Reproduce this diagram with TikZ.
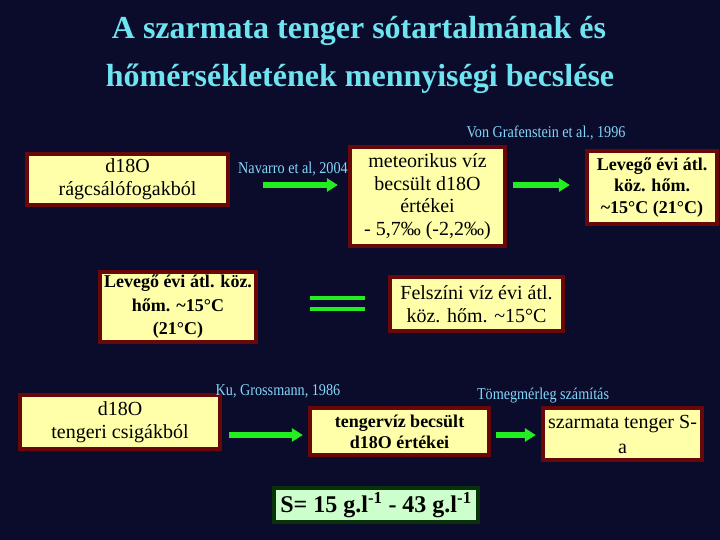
\documentclass[tikz,border=0pt]{standalone}
\usepackage{fontspec}
\setmainfont{Liberation Serif}
\newfontfamily\labfont{Liberation Serif}[FakeStretch=0.86]
\usetikzlibrary{arrows.meta}
\definecolor{bg}{RGB}{11,12,44}
\definecolor{boxfill}{RGB}{255,255,170}
\definecolor{boxred}{RGB}{105,8,8}
\definecolor{titlecol}{RGB}{110,228,240}
\definecolor{labcol}{RGB}{130,215,250}
\definecolor{arrgreen}{RGB}{34,238,34}
\definecolor{sfill}{RGB}{204,255,204}
\definecolor{sborder}{RGB}{10,50,10}
\newcommand\setfs[2]{\fontsize{#1}{#2}\selectfont}
\begin{document}
\begin{tikzpicture}[x=1pt,y=-1pt,
  box/.style={draw=boxred,line width=3.8pt,fill=boxfill,inner sep=0pt,align=center,text=black},
  nbox/.style={box,font=\setfs{20}{23}},
  bbox/.style={box,font=\bfseries\setfs{18}{22}},
  lab/.style={text=labcol,inner sep=0pt,font=\labfont\setfs{16.5}{18}},
  ttl/.style={text=titlecol,inner sep=0pt,anchor=base,font=\bfseries\setfs{32}{36}},
  arr/.style={draw=arrgreen,line width=5.5pt,-{Triangle[length=11pt,width=13pt]}},
  eqline/.style={draw=arrgreen,line width=3.5pt}]
\fill[bg] (0,0) rectangle (720,540);
\useasboundingbox (0,0) rectangle (720,540);

% title
\node[ttl] (t1) at (359,39) {A szarmata tenger sótartalmának és};
\node[ttl] (t2) at (360,87) {hőmérsékletének mennyiségi becslése};

% labels under boxes
\node[lab] (lnav) at (293,169) {Navarro et al, 2004};

% boxes
\node[nbox,minimum width=201.5pt,minimum height=51.5pt] (b1) at (127.5,179.5) {d18O\\rágcsálófogakból};
\node[nbox,minimum width=155.5pt,minimum height=99.5pt,font=\setfs{20}{22.5}] (met) at (427.5,196.5) {meteorikus víz\\becsült d18O\\értékei\\- 5,7‰ (-2,2‰)};
\node[bbox,minimum width=130.5pt,minimum height=73.5pt,font=\bfseries\setfs{18}{21.5}] (levr) at (652,187.5) {Levegő évi átl.\\köz. hőm.\\\textasciitilde15°C (21°C)};
\node[bbox,minimum width=156.5pt,minimum height=70.5pt,font=\bfseries\setfs{18}{23.5}] (levl) at (178,307) {Levegő évi átl. köz.\\hőm. \textasciitilde15°C\\(21°C)};
\node[nbox,minimum width=173.5pt,minimum height=54.5pt] (fel) at (476.5,304) {Felszíni víz évi átl.\\köz. hőm. \textasciitilde15°C};
\node[nbox,minimum width=200.5pt,minimum height=54.5pt] (teng) at (120,422) {d18O\\tengeri csigákból};
\node[bbox,minimum width=179.5pt,minimum height=47.5pt,font=\bfseries\setfs{18}{21}] (tv) at (399.5,431.5) {tengervíz becsült\\d18O értékei};
\node[nbox,minimum width=159.5pt,minimum height=52.5pt,font=\setfs{20}{25}] (sz) at (622.5,434) {szarmata tenger S-\\a};
\node[draw=sborder,line width=3.8pt,fill=sfill,inner sep=0pt,minimum width=204.5pt,minimum height=34.5pt,text=black,font=\bfseries\setfs{24}{28}] (s) at (376,505) {S= 15 g.l\textsuperscript{-1} - 43 g.l\textsuperscript{-1}};

% labels over
\node[lab] (lvon) at (546,133) {Von Grafenstein et al., 1996};
\node[lab] (lku) at (278,391) {Ku, Grossmann, 1986};
\node[lab] (ltom) at (543,396) {Tömegmérleg számítás};

% arrows
\coordinate (a1) at ([shift={(33,5.5)}]b1.east);
\draw[arr,shorten >=10pt] (a1) -- (a1 -| met.west);
\coordinate (a2) at ([shift={(6,-11.5)}]met.east);
\draw[arr,shorten >=15pt] (a2) -- (a2 -| levr.west);
\coordinate (a3) at ([shift={(7,13)}]teng.east);
\draw[arr,shorten >=5pt] (a3) -- (a3 -| tv.west);
\coordinate (a4) at ([shift={(5,3.5)}]tv.east);
\draw[arr,shorten >=5pt] (a4) -- (a4 -| sz.west);

% equal sign
\coordinate (eqA) at ([shift={(52,-9)}]levl.east);
\coordinate (eqB) at ([shift={(52,2)}]levl.east);
\draw[eqline,shorten >=23pt] (eqA) -- (eqA -| fel.west);
\draw[eqline,shorten >=23pt] (eqB) -- (eqB -| fel.west);
\end{tikzpicture}
\end{document}
